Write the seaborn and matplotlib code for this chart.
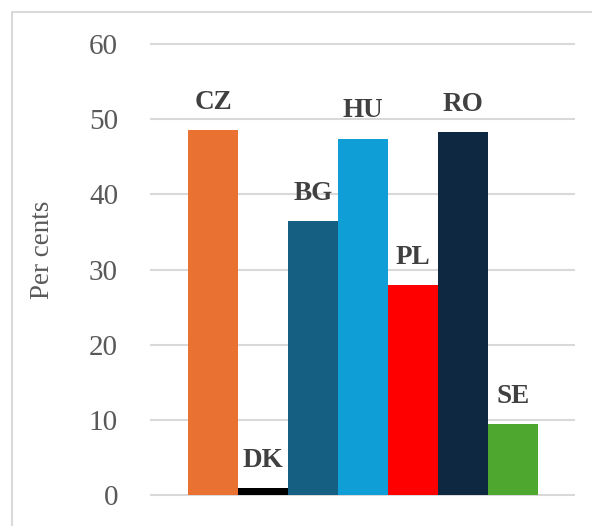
import matplotlib
matplotlib.use("Agg")
import matplotlib.pyplot as plt
import seaborn as sns
import pandas as pd
from matplotlib.patches import Rectangle

# Share of respondents by country (per cents)
countries = ["CZ", "DK", "BG", "HU", "PL", "RO", "SE"]
values = [48.5, 0.9, 36.4, 47.4, 27.9, 48.3, 9.4]
colors = ["#E97132", "#000000", "#156082", "#0F9ED5", "#FF0000", "#0E2841", "#4EA72E"]
y_ticks = [0, 10, 20, 30, 40, 50, 60]

df = pd.DataFrame({"country": countries, "value": values})

sns.set_theme(style="white")
plt.rcParams["font.family"] = ["Liberation Serif", "DejaVu Serif"]

W, H = 592, 526
fig = plt.figure(figsize=(W / 100, H / 100), dpi=100)

# axes placement in pixels: plot spans x 150..575, y(0)=495, y(60)=44
px_per_unit = (495 - 44) / 60.0
y_lo, y_hi = -1.0, 61.0
top_px = 44 - (y_hi - 60) * px_per_unit
bot_px = 495 + (0 - y_lo) * px_per_unit
ax = fig.add_axes([150 / W, 1 - bot_px / H, (575 - 150) / W, (bot_px - top_px) / H])

sns.barplot(data=df, x="country", y="value", hue="country", order=countries,
            hue_order=countries, palette=colors, width=1.0, legend=False,
            saturation=1, ax=ax, edgecolor="none", linewidth=0)

# bar region 188..538 px => 50 px per category
x_left = -0.5 - (188 - 150) / 50.0
x_right = 6.5 + (575 - 538) / 50.0
ax.set_xlim(x_left, x_right)
ax.set_ylim(y_lo, y_hi)

for yt in y_ticks:
    ax.axhline(yt, color="#D9D9D9", lw=1.5, zorder=0)

ax.set_yticks(y_ticks)
ax.set_yticklabels([str(t) for t in y_ticks], fontsize=21, color="#595959")
ax.tick_params(axis="y", length=0, pad=23)
ax.set_xticks([])
ax.set_xlabel("")
ax.set_ylabel("")
for sp in ax.spines.values():
    sp.set_visible(False)

for cont in ax.containers:
    lbls = [countries[int(round(b.get_x() + b.get_width() / 2))] for b in cont]
    ax.bar_label(cont, labels=lbls, padding=11, fontsize=19.5, fontweight="bold",
                 color="#404040")

fig.text(43 / W, 1 - 250 / H, "Per cents", rotation=90, ha="center", va="center",
         fontsize=19.5, color="#595959")

# chart frame
fig.patches.append(Rectangle((12 / W, -0.1), 1.2, 1 - 12 / H + 0.1,
                             transform=fig.transFigure, fill=False,
                             edgecolor="#D9D9D9", lw=1.5))

fig.savefig("out.png", dpi=100)
